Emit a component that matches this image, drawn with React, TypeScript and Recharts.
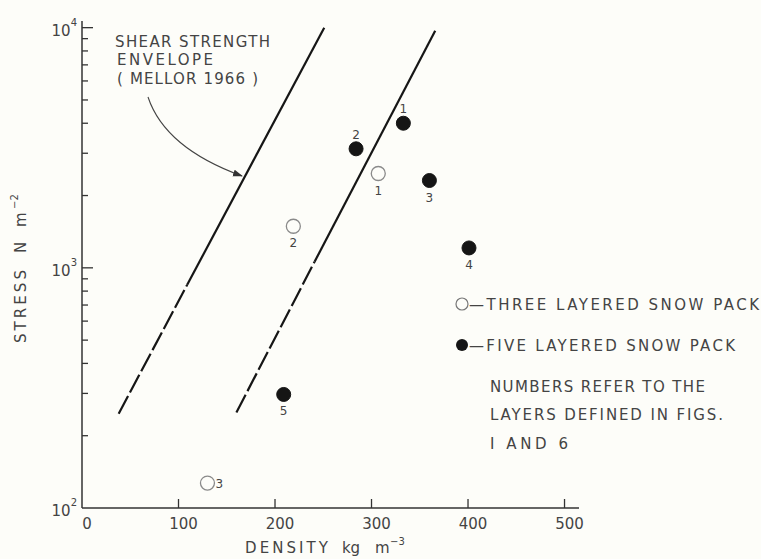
import React from "react";
import { ScatterChart, Scatter, XAxis, YAxis } from "recharts";

const densityTicks = [0, 100, 200, 300, 400, 500];
const stressTicks = [
  100, 200, 300, 400, 500, 600, 700, 800, 900,
  1000, 2000, 3000, 4000, 5000, 6000, 7000, 8000, 9000, 10000,
];

// three layered snow pack (open circles)
const threeLayered = [
  { density: 307, stress: 2470, layer: "1" },
  { density: 219, stress: 1490, layer: "2" },
  { density: 130, stress: 127, layer: "3" },
];

// five layered snow pack (filled circles)
const fiveLayered = [
  { density: 333, stress: 4000, layer: "1" },
  { density: 284, stress: 3130, layer: "2" },
  { density: 360, stress: 2310, layer: "3" },
  { density: 401, stress: 1210, layer: "4" },
  { density: 209, stress: 297, layer: "5" },
];

// shear strength envelope (Mellor 1966), solid part and dashed extrapolation
const leftSolid = [{ density: 109, stress: 850 }, { density: 251, stress: 10000 }];
const leftDashed = [{ density: 38, stress: 247 }, { density: 109, stress: 850 }];
const rightSolid = [{ density: 241, stress: 1060 }, { density: 366, stress: 9700 }];
const rightDashed = [{ density: 160, stress: 250 }, { density: 241, stress: 1060 }];

const openSide: Record<string, string> = { "1": "below", "2": "below", "3": "right" };
const filledSide: Record<string, string> = { "1": "above", "2": "above", "3": "below", "4": "below", "5": "below" };

const FONT = "DejaVu Sans";
const INK = "#444";
const LINE = "#161616";

const pointShape = (filled: boolean) => (props: any) => {
  const { cx, cy, payload } = props;
  const side = (filled ? filledSide : openSide)[payload.layer];
  let tx = cx;
  let ty = cy + 21;
  let anchor = "middle";
  if (side === "above") ty = cy - 10;
  if (side === "right") {
    tx = cx + 8;
    ty = cy + 5;
    anchor = "start";
  }
  return (
    <g>
      <circle cx={cx} cy={cy} r={7} fill={filled ? "#151515" : "none"}
        stroke={filled ? "#151515" : "#8a8a8a"} strokeWidth={filled ? 1 : 1.3} />
      <text x={tx} y={ty} textAnchor={anchor as any} fontFamily={FONT} fontSize={12} fill={INK}>
        {payload.layer}
      </text>
    </g>
  );
};

const noShape = () => <g />;

const StressTick = (props: any) => {
  const { x, y, payload } = props;
  const v = payload.value;
  const exp = Math.round(Math.log10(v));
  const major = Math.abs(Math.log10(v) - exp) < 1e-9;
  return (
    <g>
      {v > 100 && <line x1={x} x2={x + (major ? 11 : 6)} y1={y} y2={y} stroke="#333" strokeWidth={1.3} />}
      {major && (
        <text x={x - 5} y={y + 8} textAnchor="end" fontFamily={FONT} fontSize={15} fill={INK}>
          10<tspan dy={-10} fontSize={10}>{exp}</tspan>
        </text>
      )}
    </g>
  );
};

const DensityTick = (props: any) => {
  const { x, y, payload } = props;
  return (
    <g>
      {payload.value > 0 && <line x1={x} x2={x} y1={y} y2={y - 9} stroke="#333" strokeWidth={1.3} />}
      <text x={x + 5} y={y + 21} textAnchor="middle" fontFamily={FONT} fontSize={15} fill={INK}>
        {payload.value}
      </text>
    </g>
  );
};

const txt = { fontFamily: FONT, fontSize: 15, fill: INK };
const dashed = { stroke: LINE, strokeWidth: 2.2, strokeDasharray: "20 4" };
const solid = { stroke: LINE, strokeWidth: 2.2 };

export default function App() {
  return (
    <div style={{ position: "absolute", left: 0, top: 0, width: 761, height: 559, background: "#fdfdf9" }}>
      <ScatterChart width={761} height={559} margin={{ top: 21, right: 182, bottom: 0, left: 0 }}>
        <XAxis type="number" dataKey="density" domain={[0, 515]} ticks={densityTicks} interval={0}
          height={51} tickSize={0} tickMargin={0} tick={DensityTick}
          axisLine={{ stroke: "#333", strokeWidth: 1.5 }} allowDataOverflow />
        <YAxis type="number" dataKey="stress" scale="log" domain={[100, 10660]} ticks={stressTicks} interval={0}
          width={82} tickSize={0} tickMargin={0} tick={StressTick}
          axisLine={{ stroke: "#333", strokeWidth: 1.5 }} allowDataOverflow />
        <Scatter data={leftSolid} shape={noShape} line={solid} isAnimationActive={false} />
        <Scatter data={leftDashed} shape={noShape} line={dashed} strokeDasharray="20 4" isAnimationActive={false} />
        <Scatter data={rightSolid} shape={noShape} line={solid} isAnimationActive={false} />
        <Scatter data={rightDashed} shape={noShape} line={dashed} strokeDasharray="20 4" isAnimationActive={false} />
        <Scatter name="THREE LAYERED SNOW PACK" data={threeLayered} shape={pointShape(false)} isAnimationActive={false} />
        <Scatter name="FIVE LAYERED SNOW PACK" data={fiveLayered} shape={pointShape(true)} isAnimationActive={false} />
      </ScatterChart>

      <svg width={761} height={559} style={{ position: "absolute", left: 0, top: 0, pointerEvents: "none" }}>
        <defs>
          <marker id="arrowHead" markerWidth="10" markerHeight="8" refX="9" refY="4" orient="auto" markerUnits="userSpaceOnUse">
            <path d="M0,0.5 L10,4 L0,7.5 Z" fill="#333" />
          </marker>
        </defs>

        {/* annotation */}
        <text x={115} y={47} textLength={155} lengthAdjust="spacing" {...txt}>SHEAR STRENGTH</text>
        <text x={117} y={65} textLength={96} lengthAdjust="spacing" {...txt}>ENVELOPE</text>
        <text x={117} y={84} textLength={141} lengthAdjust="spacing" {...txt}>( MELLOR 1966 )</text>
        <path d="M148,97 Q165,148 242,176" fill="none" stroke="#444" strokeWidth={1.1} markerEnd="url(#arrowHead)" />

        {/* legend */}
        <circle cx={462} cy={304} r={6} fill="none" stroke="#777" strokeWidth={1.2} />
        <text x={469} y={310} textLength={290} lengthAdjust="spacing" {...txt}>—THREE LAYERED SNOW PACK</text>
        <circle cx={462} cy={345} r={6} fill="#151515" />
        <text x={469} y={351} textLength={266} lengthAdjust="spacing" {...txt}>—FIVE LAYERED SNOW PACK</text>
        <text x={490} y={392} textLength={215} lengthAdjust="spacing" {...txt}>NUMBERS REFER TO THE</text>
        <text x={490} y={420} textLength={233} lengthAdjust="spacing" {...txt}>LAYERS DEFINED IN FIGS.</text>
        <text x={490} y={449} textLength={78} lengthAdjust="spacing" {...txt}>I AND 6</text>

        {/* axis titles */}
        <text x={245} y={553} textLength={83} lengthAdjust="spacing" {...txt}>DENSITY</text>
        <text x={342} y={553} textLength={18} lengthAdjust="spacing" {...txt}>kg</text>
        <text x={375} y={553} {...txt}>m</text>
        <text x={390} y={545} fontFamily={FONT} fontSize={10} fill={INK}>−3</text>

        <g transform="translate(26,0) rotate(-90)">
          <text x={-343} y={0} textLength={73} lengthAdjust="spacing" {...txt}>STRESS</text>
          <text x={-253} y={0} {...txt}>N</text>
          <text x={-227} y={0} {...txt}>m</text>
          <text x={-209} y={-8} fontFamily={FONT} fontSize={10} fill={INK}>−2</text>
        </g>
      </svg>
    </div>
  );
}
